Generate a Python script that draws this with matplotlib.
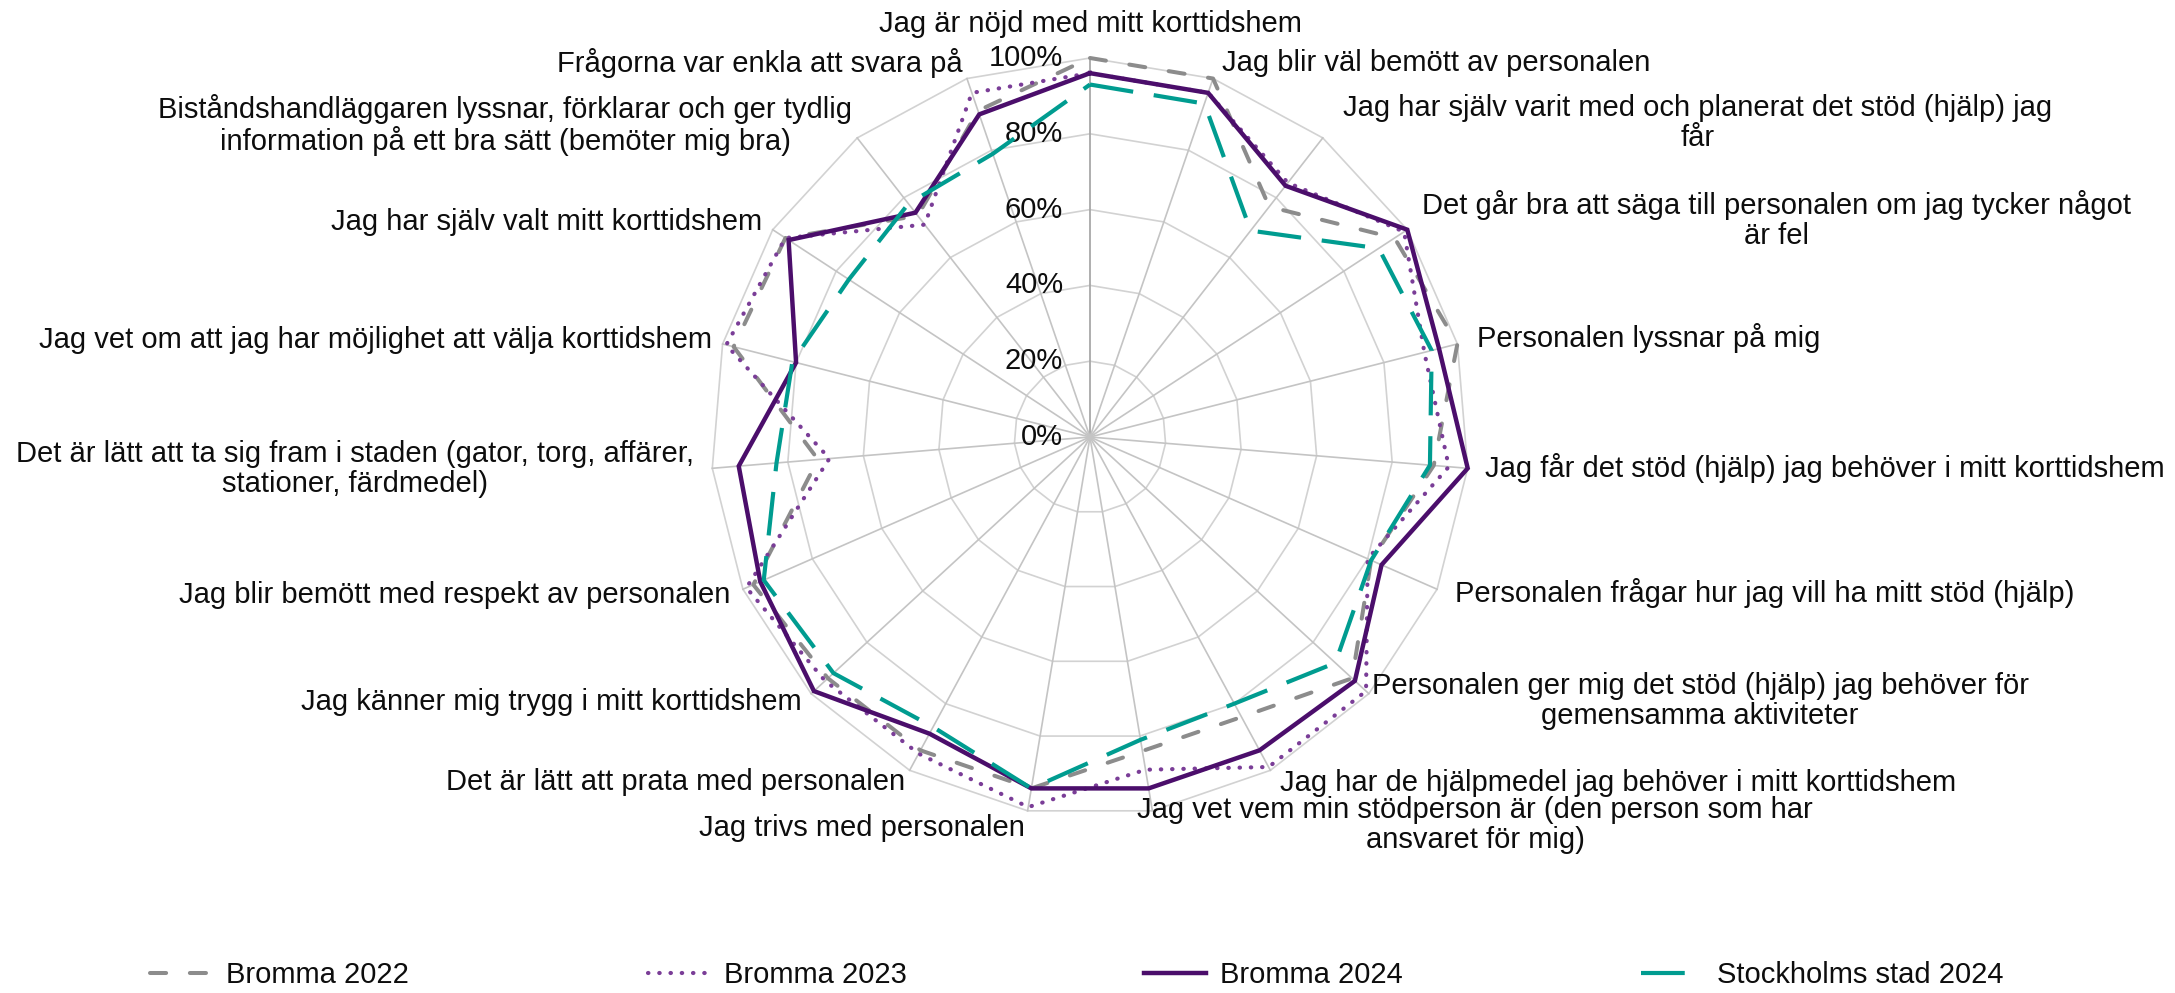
import numpy as np
import matplotlib
matplotlib.use("Agg")
import matplotlib.pyplot as plt
from matplotlib.transforms import ScaledTranslation

plt.rcParams['font.family'] = ['Liberation Sans', 'DejaVu Sans']

# ---------------- data ----------------
categories = [
    "Jag är nöjd med mitt korttidshem",
    "Jag blir väl bemött av personalen",
    "Jag har själv varit med och planerat det stöd (hjälp) jag\nfår",
    "Det går bra att säga till personalen om jag tycker något\när fel",
    "Personalen lyssnar på mig",
    "Jag får det stöd (hjälp) jag behöver i mitt korttidshem",
    "Personalen frågar hur jag vill ha mitt stöd (hjälp)",
    "Personalen ger mig det stöd (hjälp) jag behöver för\ngemensamma aktiviteter",
    "Jag har de hjälpmedel jag behöver i mitt korttidshem",
    "Jag vet vem min stödperson är (den person som har\nansvaret för mig)",
    "Jag trivs med personalen",
    "Det är lätt att prata med personalen",
    "Jag känner mig trygg i mitt korttidshem",
    "Jag blir bemött med respekt av personalen",
    "Det är lätt att ta sig fram i staden (gator, torg, affärer,\nstationer, färdmedel)",
    "Jag vet om att jag har möjlighet att välja korttidshem",
    "Jag har själv valt mitt korttidshem",
    "Biståndshandläggaren lyssnar, förklarar och ger tydlig\ninformation på ett bra sätt (bemöter mig bra)",
    "Frågorna var enkla att svara på",
]
bromma_2022 = [100, 100, 77, 96, 100, 91, 81, 94, 84, 84, 94, 94, 94, 97, 72, 97, 96, 74, 91]
bromma_2023 = [96, 96, 85, 99, 91, 95, 80, 99, 99, 89, 99, 95, 95, 99, 69, 99, 96, 71, 96]
bromma_2024 = [96, 96, 84, 100, 95, 100, 84, 95, 94, 94, 94, 89, 99, 95, 93, 80, 95, 75, 90]
stockholm_2024 = [93, 93, 69, 91, 93, 90, 81, 88, 80, 81, 94, 87, 92, 94, 83, 81, 76, 78, 79]
series_names = ["Bromma 2022", "Bromma 2023", "Bromma 2024", "Stockholms stad 2024"]
tick_values = [0, 20, 40, 60, 80, 100]
tick_labels = ["0%", "20%", "40%", "60%", "80%", "100%"]

# ---------------- layout / style ----------------
W, H = 2175, 993
fig = plt.figure(figsize=(W / 100, H / 100), dpi=100)
cx, cy, R = 1090, 437, 379
ax = fig.add_axes([(cx - R) / W, 1 - (cy + R) / H, 2 * R / W, 2 * R / H],
                  projection='polar')
ax.set_theta_offset(np.pi / 2)
ax.set_theta_direction(-1)
ax.set_ylim(0, 100)
ax.grid(False)
ax.set_xticks([])
ax.set_yticks([])
ax.spines['polar'].set_visible(False)
ax.patch.set_visible(False)

n = len(categories)
theta = np.arange(n) * 2 * np.pi / n
theta_closed = np.append(theta, theta[0])

# polygon gridlines
for r in tick_values[1:]:
    ax.plot(theta_closed, [r] * (n + 1), color='#D2D2D2', lw=1.2, zorder=1,
            clip_on=False)
for i, t in enumerate(theta):
    ax.plot([t, t], [0, 100], color='#A8A8A8' if i == 0 else '#C4C4C4',
            lw=1.3 if i == 0 else 1.2, zorder=1, clip_on=False)

# tick labels
off = ScaledTranslation(-0.27, 0, fig.dpi_scale_trans)
for v, lab in zip(tick_values, tick_labels):
    ax.text(0, v, lab, transform=ax.transData + off, ha='right', va='center',
            fontsize=21, color='#0D0D0D', zorder=5)

styles = [
    dict(color='#8C8C8C', lw=2.9, linestyle=(0, (4.0, 5.9)), dash_capstyle='round'),
    dict(color='#7A3D97', lw=3.0, linestyle=(0, (0.1, 2.6)), dash_capstyle='round'),
    dict(color='#4B0E6B', lw=3.2, linestyle='-', solid_joinstyle='miter'),
    dict(color='#009C90', lw=3.0, linestyle=(0, (10.5, 5.0)), dash_capstyle='butt'),
]
all_series = [bromma_2022, bromma_2023, bromma_2024, stockholm_2024]
handles = []
for k, (vals, st, name) in enumerate(zip(all_series, styles, series_names)):
    v = np.append(vals, vals[0])
    ln, = ax.plot(theta_closed, v, zorder=3 + k, clip_on=False, label=name, **st)
    handles.append(ln)

# category labels (pixel positions of the reference layout)
label_pos = [
    (1090, 24, 'center'), (1222, 63, 'left'), (1698, 123, 'center'),
    (1777, 220, 'center'), (1477, 338, 'left'), (1485, 468, 'left'),
    (1455, 593, 'left'), (1700, 701, 'center'), (1280, 783, 'left'),
    (1475, 825, 'center'), (1025, 828, 'right'), (905, 782, 'right'),
    (802, 702, 'right'), (730, 595, 'right'), (355, 469, 'center'),
    (712, 340, 'right'), (762, 222, 'right'), (505, 125, 'center'),
    (963, 63, 'right'),
]
for lab, (x, y, ha) in zip(categories, label_pos):
    fig.text(x / W, 1 - y / H, lab, ha=ha, va='center', multialignment='center',
             fontsize=21, color='#0D0D0D', linespacing=1.1)

# legend: four evenly spaced entries
leg_x = [150, 648, 1144, 1641]
leg_y = 975
for h, x in zip(handles, leg_x):
    lg = fig.legend(handles=[h], loc='center left',
                    bbox_to_anchor=(x / W, 1 - leg_y / H), frameon=False,
                    fontsize=21, handlelength=2.13, handletextpad=0.48,
                    borderpad=0, borderaxespad=0)
    for t in lg.get_texts():
        t.set_color('#0D0D0D')

fig.savefig("out.png", dpi=100, facecolor='white')
